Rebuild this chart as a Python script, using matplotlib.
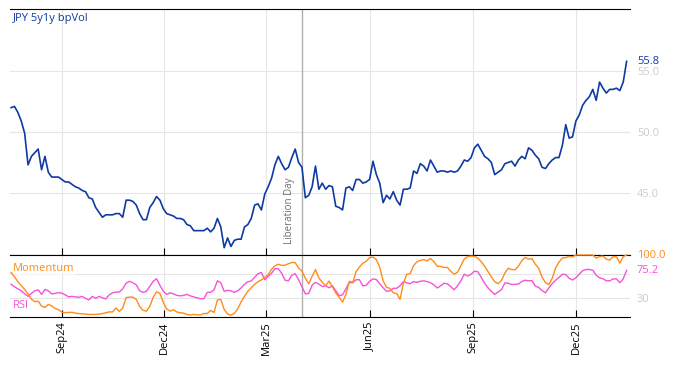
import matplotlib
matplotlib.use("Agg")
import matplotlib.pyplot as plt
import matplotlib.dates as mdates
import matplotlib.transforms as mtransforms
import pandas as pd

plt.rcParams["font.family"] = ["Open Sans", "DejaVu Sans"]

# %% Data (one value every 3 calendar days)

start_date = "2024-07-18"
liberation_day = "2025-04-02"

vol = [
    52.0, 52.1, 51.6, 50.9, 49.9, 47.3, 48.0, 48.3, 48.6, 46.9,
    48.0, 46.7, 46.3, 46.3, 46.3, 46.1, 45.9, 45.9, 45.7, 45.5,
    45.4, 45.2, 45.1, 44.6, 44.5, 43.8, 43.4, 43.0, 43.2, 43.2,
    43.2, 43.3, 43.3, 43.0, 44.4, 44.4, 44.3, 44.0, 43.3, 42.8,
    42.8, 43.8, 44.2, 44.7, 44.4, 43.7, 43.3, 43.2, 43.1, 42.9,
    42.9, 42.8, 42.4, 42.3, 41.9, 41.9, 41.9, 41.9, 42.1, 41.8,
    42.1, 42.9, 42.2, 40.5, 41.3, 40.6, 41.1, 41.2, 41.2, 42.2,
    42.4, 42.9, 44.0, 44.1, 43.6, 44.9, 45.5, 46.2, 47.3, 48.0,
    47.4, 46.9, 47.1, 47.9, 48.6, 47.5, 47.1, 44.6, 44.8, 45.5,
    47.2, 45.3, 45.8, 45.3, 45.6, 45.5, 43.9, 43.8, 43.6, 45.4,
    45.5, 45.2, 46.1, 46.1, 45.8, 45.9, 46.1, 47.6, 46.5, 45.8,
    44.2, 44.8, 44.5, 45.1, 44.4, 44.0, 45.3, 45.3, 45.4, 46.8,
    46.6, 47.4, 47.2, 46.8, 47.7, 47.2, 46.7, 46.8, 46.8, 46.7,
    46.8, 46.7, 46.8, 47.2, 47.7, 47.6, 47.9, 48.7, 49.0, 48.5,
    48.0, 47.8, 47.5, 46.5, 46.7, 46.9, 47.4, 47.5, 47.6, 47.2,
    47.7, 48.0, 47.8, 48.7, 48.5, 48.1, 47.8, 47.1, 47.0, 47.4,
    47.7, 47.9, 47.9, 48.9, 50.6, 49.5, 49.6, 50.9, 51.4, 52.2,
    52.6, 52.9, 53.5, 52.6, 54.1, 53.6, 53.2, 53.5, 53.5, 53.6,
    53.4, 54.1, 55.8,
]

rsi = [
    52.8, 48.7, 45.5, 42.2, 37.3, 33.3, 38.1, 42.2, 43.8, 36.5,
    44.6, 42.2, 37.3, 38.1, 39.3, 38.5, 35.7, 32.5, 33.3, 32.5,
    31.7, 33.3, 30.0, 27.6, 33.3, 30.0, 33.3, 30.8, 29.2, 35.7,
    39.0, 40.3, 40.3, 45.5, 54.4, 57.6, 55.2, 51.9, 42.2, 39.8,
    41.4, 49.5, 57.6, 61.7, 51.1, 41.4, 36.5, 39.0, 37.3, 34.9,
    34.1, 34.9, 36.5, 34.1, 32.5, 30.8, 29.5, 29.5, 39.8, 39.8,
    43.8, 58.4, 55.2, 41.4, 43.0, 42.2, 39.8, 42.2, 46.8, 52.8,
    56.8, 58.1, 64.1, 69.8, 71.8, 60.1, 65.3, 70.6, 77.9, 77.9,
    70.6, 59.3, 58.4, 67.4, 69.8, 60.1, 48.7, 37.3, 38.1, 51.1,
    56.0, 53.1, 49.2, 50.3, 47.1, 50.3, 42.2, 34.4, 35.7, 45.5,
    55.7, 55.2, 60.1, 60.1, 50.3, 51.1, 57.6, 61.4, 60.4, 53.6,
    47.1, 41.4, 42.2, 46.3, 46.3, 50.3, 57.0, 55.2, 53.6, 57.1,
    56.0, 57.6, 58.3, 57.1, 55.4, 51.9, 46.8, 50.3, 54.4, 53.6,
    49.0, 43.8, 50.3, 58.4, 69.0, 66.1, 69.0, 73.9, 73.1, 64.1,
    54.4, 47.1, 41.4, 36.5, 40.3, 44.1, 54.9, 54.4, 52.4, 52.8,
    53.1, 57.3, 59.3, 58.4, 58.8, 49.8, 47.7, 42.7, 39.0, 46.8,
    53.9, 59.3, 63.6, 69.0, 68.5, 62.5, 59.6, 63.3, 69.0, 74.7,
    76.6, 76.6, 75.5, 67.4, 63.3, 61.7, 58.4, 58.3, 61.5, 61.4,
    55.2, 61.7, 75.2,
]

momentum = [
    71.8, 64.9, 56.8, 50.3, 44.6, 37.3, 28.9, 24.7, 25.6, 17.5,
    15.4, 20.3, 17.9, 13.8, 11.9, 7.8, 7.0, 7.3, 7.6, 6.2,
    5.5, 5.2, 4.7, 4.1, 4.1, 4.1, 4.7, 5.5, 6.8, 8.3,
    8.1, 14.6, 8.9, 14.4, 31.2, 32.1, 32.1, 28.4, 17.0, 10.9,
    9.4, 17.0, 31.7, 40.6, 38.1, 23.5, 13.0, 9.4, 11.7, 8.1,
    6.8, 6.2, 4.1, 3.2, 4.1, 3.6, 3.2, 5.7, 5.7, 10.6,
    7.3, 27.6, 28.4, 12.2, 4.9, 2.8, 5.7, 13.0, 24.4, 33.6,
    41.4, 47.1, 52.8, 56.8, 59.7, 64.1, 68.2, 77.1, 82.5, 85.2,
    83.1, 83.6, 86.0, 88.0, 87.7, 79.1, 73.9, 62.5, 53.6, 65.7,
    76.3, 63.0, 56.0, 50.3, 58.0, 48.7, 39.0, 31.7, 24.0, 36.5,
    57.6, 55.5, 73.1, 80.7, 86.8, 89.6, 95.8, 96.6, 92.5, 80.4,
    58.4, 47.9, 46.3, 39.0, 38.1, 28.4, 54.4, 69.0, 69.8, 82.8,
    89.0, 91.4, 92.5, 90.4, 94.2, 89.3, 82.0, 81.5, 79.9, 80.0,
    73.9, 69.0, 72.2, 82.8, 93.7, 97.4, 98.2, 97.7, 95.0, 89.3,
    82.0, 73.4, 64.9, 57.1, 53.6, 59.3, 70.9, 78.7, 76.6, 76.3,
    82.0, 90.9, 96.1, 93.3, 94.2, 85.2, 78.7, 64.1, 55.7, 52.3,
    62.5, 79.1, 88.5, 95.0, 95.9, 97.6, 96.9, 100.0, 100.0, 100.0,
    100.0, 100.0, 100.0, 95.0, 97.4, 98.2, 93.3, 91.7, 97.4, 97.2,
    86.8, 97.4, 100.0,
]

dates = pd.date_range(start_date, periods=len(vol), freq="3D")

VOL_COLOR = "#0f3aa3"
MOM_COLOR = "#ff8c1a"
RSI_COLOR = "#f553d8"
GRID_COLOR = "#e6e6e6"
TICK_COLOR = "#cccccc"

# %% Figure

fig = plt.figure(figsize=(6.74, 3.66), dpi=100)
ax = fig.add_axes([10 / 674, 1 - 255 / 366, 620 / 674, 246 / 366])
ax2 = fig.add_axes([10 / 674, 1 - 317 / 366, 620 / 674, 62 / 366], sharex=ax)

ax.plot(dates, vol, color=VOL_COLOR, lw=1.2, zorder=3)
ax2.plot(dates, rsi, color=RSI_COLOR, lw=1.0, zorder=3)
ax2.plot(dates, momentum, color=MOM_COLOR, lw=1.0, zorder=4, clip_on=False)

ax.set_xlim(pd.Timestamp("2024-07-17"), pd.Timestamp("2026-01-18"))
ax.set_ylim(39.9, 60.1)
ax2.set_ylim(0, 100)

for a in (ax, ax2):
    a.xaxis.set_major_locator(mdates.MonthLocator(bymonth=[3, 6, 9, 12]))
    a.xaxis.set_major_formatter(mdates.DateFormatter("%b%y"))
    a.grid(True, color=GRID_COLOR, lw=0.8, zorder=0)
    a.spines["left"].set_visible(False)
    a.spines["right"].set_visible(False)
    a.yaxis.tick_right()
    a.tick_params(axis="y", length=0, pad=5, labelcolor=TICK_COLOR, labelsize=8)
    a.tick_params(axis="x", direction="in", length=5, color="black")
    a.axvline(pd.Timestamp(liberation_day), color="#b0b0b0", lw=1.0, zorder=2)

ax.set_yticks([45, 50, 55])
ax.yaxis.set_major_formatter(matplotlib.ticker.FormatStrFormatter("%.1f"))
ax.tick_params(axis="x", labelbottom=False)

# the 70 label sits under the RSI value label, so only 30 is printed
ax2.set_yticks([30, 70])
ax2.set_yticklabels(["30", ""])
ax2.tick_params(axis="x", labelsize=8, pad=3, labelrotation=90)

# last value labels on the right
for a, series, color in ((ax, vol, VOL_COLOR), (ax2, momentum, MOM_COLOR), (ax2, rsi, RSI_COLOR)):
    trans = mtransforms.blended_transform_factory(a.transAxes, a.transData)
    a.annotate(f"{series[-1]:.1f}", xy=(1.0, series[-1]), xycoords=trans,
               xytext=(5, 0), textcoords="offset points",
               color=color, fontsize=8, va="center", ha="left",
               bbox=dict(boxstyle="square,pad=0.05", fc="white", ec="none", alpha=0.6))

ax.text(0.005, 0.96, "JPY 5y1y bpVol", transform=ax.transAxes,
        color=VOL_COLOR, fontsize=8, va="center", ha="left")
ax.annotate("Liberation Day", xy=(pd.Timestamp(liberation_day), 0.045),
            xycoords=("data", "axes fraction"), xytext=(-9, 0), textcoords="offset points",
            rotation=90, color="#6e6e6e", fontsize=7, ha="center", va="bottom")

ax2.text(0.005, 0.79, "Momentum", transform=ax2.transAxes, color=MOM_COLOR,
         fontsize=8, va="center", ha="left",
         bbox=dict(boxstyle="square,pad=0.1", fc="white", ec="none", alpha=0.6))
ax2.text(0.005, 0.18, "RSI", transform=ax2.transAxes, color=RSI_COLOR,
         fontsize=8, va="center", ha="left",
         bbox=dict(boxstyle="square,pad=0.1", fc="white", ec="none", alpha=0.6))

fig.savefig("out.png", dpi=100)
